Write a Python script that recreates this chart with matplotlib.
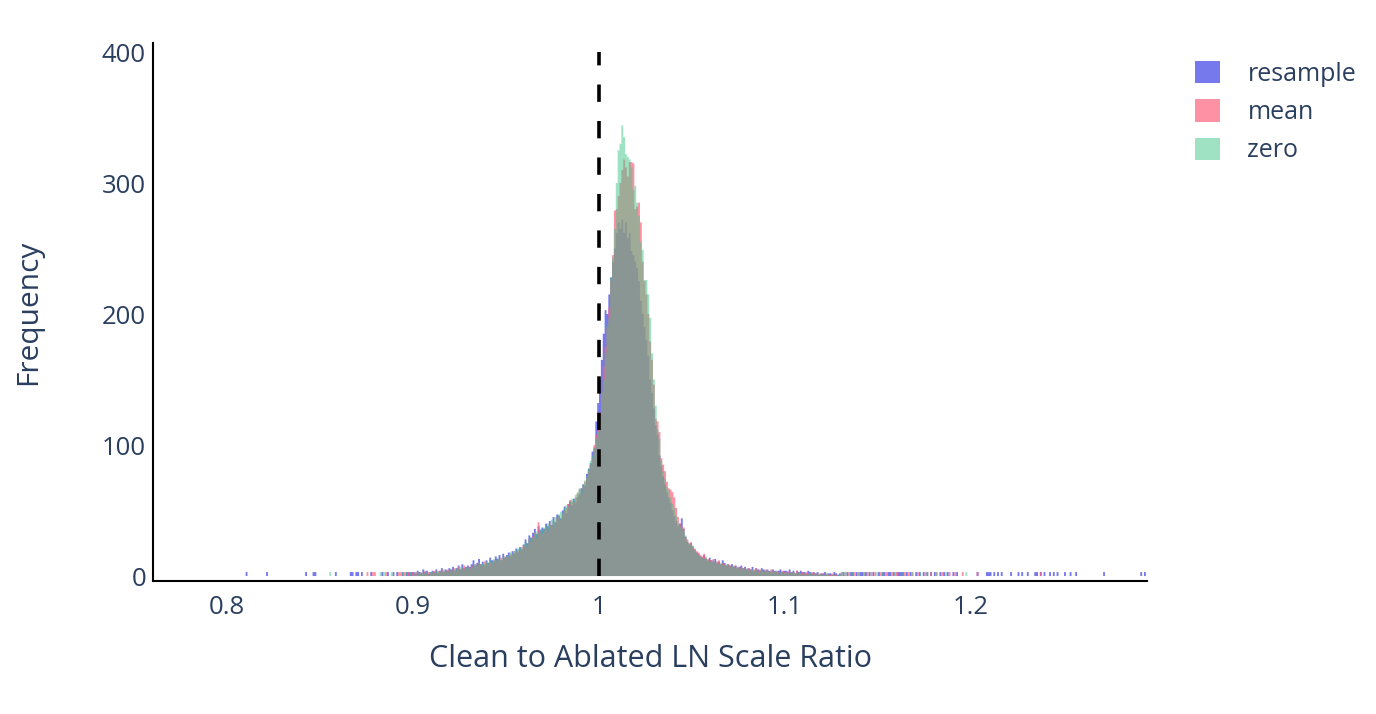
import matplotlib
matplotlib.use("Agg")
import matplotlib.pyplot as plt
from matplotlib.patches import Patch
import numpy as np

# histogram counts, bins of width 0.001 starting at 0.900
core_start = 0.900
bin_width = 0.001

resample_core = [
    3, 2, 4, 3, 2, 5, 3, 4, 2, 3,
    4, 3, 5, 2, 4, 6, 3, 5, 4, 6,
    5, 7, 4, 6, 8, 5, 9, 6, 7, 8,
    7, 9, 12, 8, 10, 13, 9, 11, 8, 12,
    10, 14, 12, 11, 15, 13, 16, 12, 17, 14,
    16, 18, 15, 19, 17, 21, 18, 22, 20, 24,
    28, 25, 31, 29, 33, 36, 32, 38, 35, 37,
    36, 40, 38, 42, 39, 45, 41, 47, 46, 44,
    50, 53, 48, 55, 57, 54, 59, 56, 60, 62,
    67, 70, 69, 78, 82, 86, 95, 98, 118, 132,
    150, 165, 185, 203, 200, 215, 228, 240, 250, 262,
    270, 265, 272, 262, 270, 258, 262, 248, 245, 240,
    235, 225, 210, 200, 190, 180, 168, 150, 140, 128,
    115, 108, 92, 84, 76, 70, 64, 60, 56, 50,
    46, 42, 38, 40, 44, 36, 30, 26, 24, 25,
    22, 20, 18, 17, 15, 14, 16, 13, 12, 14,
    12, 11, 13, 10, 11, 9, 12, 10, 8, 9,
    8, 9, 7, 8, 6, 7, 8, 6, 7, 5,
    6, 5, 7, 4, 6, 5, 4, 6, 5, 4,
    5, 4, 3, 5, 4, 3, 4, 5, 3, 4,
    4, 3, 5, 3, 4, 2, 4, 3, 4, 3,
    3, 2, 4, 3, 2, 3, 2, 3, 1, 2,
    2, 3, 1, 2, 2, 1, 3, 2, 1, 2,
]

mean_core = [
    2, 3, 2, 1, 3, 2, 4, 2, 3, 2,
    3, 4, 2, 4, 3, 5, 4, 3, 5, 4,
    4, 5, 6, 4, 7, 5, 6, 8, 5, 7,
    6, 8, 7, 9, 8, 10, 9, 8, 11, 10,
    9, 11, 10, 12, 11, 13, 12, 14, 13, 15,
    14, 15, 17, 16, 19, 18, 20, 19, 22, 23,
    24, 22, 28, 26, 30, 33, 29, 41, 34, 32,
    35, 37, 34, 40, 38, 42, 40, 44, 46, 43,
    47, 50, 52, 55, 58, 57, 56, 60, 63, 66,
    62, 68, 72, 75, 80, 85, 90, 100, 108, 112,
    125, 140, 160, 175, 190, 205, 225, 245, 279, 280,
    290, 300, 310, 318, 312, 305, 316, 316, 315, 280,
    282, 285, 270, 240, 225, 215, 200, 179, 165, 146,
    120, 118, 110, 90, 85, 80, 72, 67, 66, 64,
    60, 52, 45, 40, 38, 37, 30, 28, 25, 26,
    23, 21, 19, 18, 16, 15, 17, 14, 13, 12,
    12, 13, 10, 11, 12, 9, 10, 9, 8, 9,
    8, 7, 8, 6, 7, 6, 7, 5, 6, 5,
    6, 5, 4, 5, 6, 4, 5, 4, 3, 5,
    4, 3, 5, 4, 3, 4, 3, 2, 4, 3,
    3, 4, 2, 3, 3, 2, 4, 3, 2, 3,
    2, 3, 2, 1, 3, 2, 2, 1, 2, 1,
    2, 1, 2, 1, 1, 2, 1, 1, 0, 1,
]

zero_core = [
    2, 1, 3, 2, 2, 3, 2, 3, 1, 3,
    3, 2, 4, 3, 4, 3, 5, 4, 3, 4,
    5, 4, 5, 6, 5, 7, 6, 5, 7, 6,
    7, 6, 8, 9, 8, 10, 9, 10, 9, 11,
    10, 12, 11, 13, 12, 14, 13, 12, 15, 14,
    15, 16, 18, 17, 19, 20, 21, 22, 21, 24,
    26, 25, 28, 30, 29, 32, 34, 33, 36, 35,
    37, 38, 40, 39, 43, 42, 45, 44, 47, 49,
    48, 52, 54, 53, 57, 59, 58, 62, 64, 67,
    66, 70, 73, 76, 82, 88, 92, 98, 105, 110,
    122, 140, 150, 170, 192, 197, 228, 243, 265, 300,
    325, 330, 344, 335, 322, 320, 318, 312, 295, 298,
    285, 275, 255, 249, 226, 226, 215, 197, 170, 150,
    130, 112, 105, 88, 80, 74, 68, 66, 60, 55,
    52, 46, 40, 38, 37, 35, 31, 27, 25, 24,
    23, 20, 18, 16, 15, 14, 13, 15, 12, 11,
    11, 12, 10, 11, 9, 10, 9, 8, 9, 8,
    7, 8, 7, 6, 7, 6, 5, 6, 5, 6,
    5, 4, 5, 4, 5, 3, 4, 5, 3, 4,
    4, 3, 4, 3, 3, 4, 2, 3, 3, 2,
    3, 2, 3, 2, 3, 2, 2, 3, 2, 1,
    2, 1, 2, 2, 1, 2, 1, 2, 1, 1,
    1, 1, 2, 1, 0, 1, 1, 0, 1, 1,
]

# isolated tail bins (left edge of bin); each reads about 3 counts tall
tail_height = 3
resample_tail = [0.810, 0.821, 0.842, 0.846, 0.847, 0.858, 0.866, 0.867, 0.869,
                 0.870, 0.872, 0.877, 0.883, 0.886, 0.889, 0.891, 0.894, 0.896,
                 0.897, 0.898, 0.899,
                 1.131, 1.133, 1.135, 1.136, 1.138, 1.140, 1.141, 1.143, 1.145,
                 1.147, 1.150, 1.152, 1.153, 1.155, 1.156, 1.158, 1.160, 1.161,
                 1.162, 1.163, 1.165, 1.167, 1.170, 1.172, 1.174, 1.176,
                 1.178, 1.180, 1.183, 1.185, 1.187, 1.190, 1.192, 1.203, 1.208,
                 1.209, 1.210, 1.212, 1.214, 1.216, 1.221, 1.225, 1.227, 1.230,
                 1.234, 1.235, 1.237, 1.239, 1.242, 1.244, 1.246, 1.250, 1.253,
                 1.256, 1.271, 1.291, 1.293]
mean_tail = [0.875, 0.878, 0.879, 0.885, 0.892, 0.893, 0.895, 0.897, 0.899,
             1.130, 1.132, 1.134, 1.137, 1.139, 1.142, 1.144, 1.146, 1.148,
             1.151, 1.154, 1.157, 1.159, 1.160, 1.164, 1.166, 1.168, 1.171,
             1.175, 1.178, 1.181, 1.184, 1.188, 1.191, 1.195, 1.203, 1.237]
zero_tail = [0.855, 0.882, 0.884, 0.888, 0.894, 0.896, 0.898,
             1.130, 1.131, 1.133, 1.136, 1.139, 1.142, 1.145, 1.149, 1.152,
             1.158, 1.163, 1.168, 1.172, 1.176, 1.181, 1.186, 1.197]

names = ['resample', 'mean', 'zero']
colors = ['#5358e6', '#ff627e', '#41c589']
alphas = [0.8, 0.7, 0.5]

grid_start = 0.760
n_bins = 536
edges = grid_start + bin_width * np.arange(n_bins + 1)


def full_counts(core, tail):
    counts = np.zeros(n_bins)
    i0 = int(round((core_start - grid_start) / bin_width))
    counts[i0:i0 + len(core)] += core
    for p in tail:
        i = int(round((p - grid_start) / bin_width))
        counts[i] = max(counts[i], tail_height)
    return counts


text_color = '#2a3f5f'
plt.rcParams['font.family'] = ['Open Sans', 'DejaVu Sans']

fig = plt.figure(figsize=(13.76, 7.14), dpi=100)
ax = fig.add_axes([153 / 1376, 1 - 581 / 714, (1147 - 153) / 1376, (581 - 43) / 714])

series = [(resample_core, resample_tail), (mean_core, mean_tail), (zero_core, zero_tail)]
for (core, tail), c, a in zip(series, colors, alphas):
    ax.stairs(full_counts(core, tail), edges, fill=True, color=c, alpha=a, linewidth=0)

ax.plot([1, 1], [0, 400], color='black', lw=2.6, ls=(0, (4.8, 5.3)), zorder=5)

ax.set_xlim(0.7602, 1.2946)
ax.set_ylim(-3.8, 406.9)
ax.set_xticks([0.8, 0.9, 1.0, 1.1, 1.2])
ax.set_xticklabels(['0.8', '0.9', '1', '1.1', '1.2'])
ax.set_yticks([0, 100, 200, 300, 400])
ax.tick_params(length=0, labelsize=18.5, labelcolor=text_color)
ax.tick_params(axis='x', pad=10)
ax.tick_params(axis='y', pad=5)
for s in ['top', 'right']:
    ax.spines[s].set_visible(False)
for s in ['left', 'bottom']:
    ax.spines[s].set_linewidth(1.5)
    ax.spines[s].set_color('black')

ax.set_xlabel('Clean to Ablated LN Scale Ratio', fontsize=22, color=text_color)
ax.xaxis.set_label_coords(0.501, -0.118)
ax.set_ylabel('Frequency', fontsize=21.5, color=text_color)
ax.yaxis.set_label_coords(-0.111, 0.5)

handles = [Patch(facecolor=c, alpha=a, edgecolor='none') for c, a in zip(colors, alphas)]
fig.legend(handles, names, loc='upper left', bbox_to_anchor=(1175 / 1376, 1 - 41 / 714),
           frameon=False, fontsize=18, labelcolor=text_color, handlelength=1.0,
           handleheight=1.0, handletextpad=1.1, labelspacing=0.5, borderpad=0.3)

fig.savefig('out.png', dpi=100)
